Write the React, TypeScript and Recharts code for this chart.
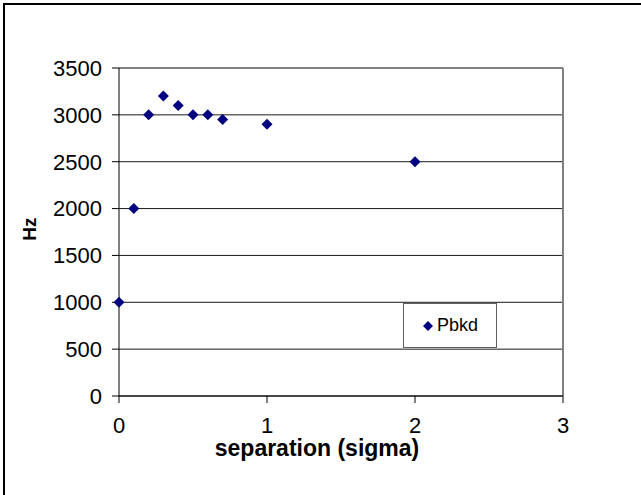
import { ScatterChart, Scatter, XAxis, YAxis, CartesianGrid, ReferenceLine } from 'recharts'

const separation = [0, 0.1, 0.2, 0.3, 0.4, 0.5, 0.6, 0.7, 1, 2]
const hz = [1000, 2000, 3000, 3200, 3100, 3000, 3000, 2950, 2900, 2500]
const xTicks = [0, 1, 2, 3]
const yTicks = [0, 500, 1000, 1500, 2000, 2500, 3000, 3500]
const seriesName = 'Pbkd'

const FONT = '"Liberation Sans", Arial, sans-serif'
const NAVY = '#000080'

const data = separation.map((x, i) => ({ x, y: hz[i] }))

function Diamond(props: { cx?: number; cy?: number }) {
  const { cx = 0, cy = 0 } = props
  const r = 5.5
  return <polygon points={`${cx},${cy - r} ${cx + r},${cy} ${cx},${cy + r} ${cx - r},${cy}`} fill={NAVY} />
}

export default function App() {
  return (
    <div style={{ position: 'absolute', left: 0, top: 0, width: 641, height: 495, background: '#fff', fontFamily: FONT }}>
      <div style={{ position: 'absolute', left: 3, top: 3, width: 638, height: 2, background: '#000' }} />
      <div style={{ position: 'absolute', left: 3, top: 3, width: 2, height: 492, background: '#000' }} />
      <ScatterChart width={641} height={495} margin={{ top: 68, right: 78, left: 0, bottom: 0 }}>
        <CartesianGrid vertical={false} stroke="#000" strokeOpacity={0.9} />
        <XAxis
          type="number"
          dataKey="x"
          domain={[0, 3]}
          ticks={xTicks}
          height={99}
          tickSize={7}
          tickMargin={14}
          stroke="#000"
          tick={{ fill: '#000', fontSize: 22, fontFamily: FONT }}
          label={{
            content: () => (
              <text x={317} y={456} textAnchor="middle" fontSize={23} fontWeight="bold" fontFamily={FONT} fill="#000">
                separation (sigma)
              </text>
            ),
          }}
        />
        <YAxis
          type="number"
          dataKey="y"
          domain={[0, 3500]}
          ticks={yTicks}
          width={119}
          tickSize={7}
          tickMargin={10}
          stroke="#000"
          tick={{ fill: '#000', fontSize: 22, fontFamily: FONT }}
          label={{
            content: () => (
              <text
                x={29}
                y={229}
                transform="rotate(-90 29 229)"
                textAnchor="middle"
                dominantBaseline="central"
                fontSize={19}
                fontWeight="bold"
                fontFamily={FONT}
                fill="#000"
              >
                Hz
              </text>
            ),
          }}
        />
        <ReferenceLine y={3500} stroke="#808080" strokeWidth={2} />
        <ReferenceLine x={3} stroke="#808080" strokeWidth={2} />
        <Scatter name={seriesName} data={data} shape={<Diamond />} isAnimationActive={false} />
      </ScatterChart>
      <div
        style={{
          position: 'absolute',
          left: 403,
          top: 303,
          width: 92,
          height: 43,
          border: '1px solid #606060',
          background: '#fff',
          display: 'flex',
          alignItems: 'center',
          justifyContent: 'center',
          gap: 3,
          fontSize: 18,
          color: '#000',
        }}
      >
        <svg width={12} height={12}>
          <polygon points="6,1 11,6 6,11 1,6" fill={NAVY} />
        </svg>
        <span>{seriesName}</span>
      </div>
    </div>
  )
}
